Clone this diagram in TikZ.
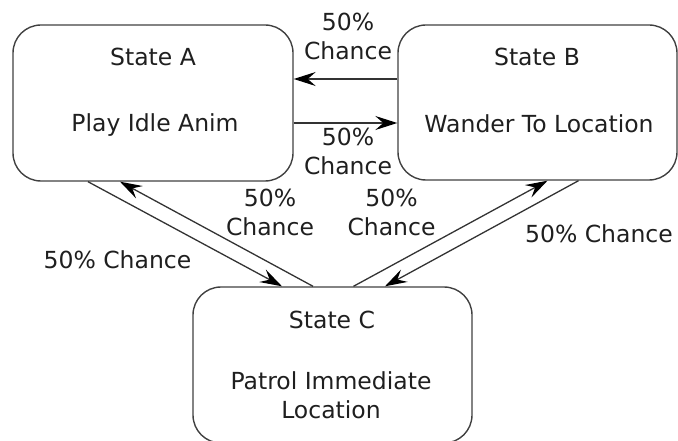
\documentclass[tikz,border=0pt]{standalone}
\usepackage{fontspec}
\setmainfont{DejaVu Sans}
\usetikzlibrary{arrows.meta}
\begin{document}
\begin{tikzpicture}[x=1pt,y=-1pt,
  statebox/.style={draw=black!75, line width=1.4pt, rounded corners=28pt,
    minimum width=280pt, minimum height=156pt, inner sep=0pt},
  lbl/.style={font=\fontsize{23.5}{29}\selectfont, text=black!88,
    anchor=base, inner sep=0pt, align=center},
  flow/.style={draw=black!80, line width=1.3pt,
    -{Stealth[length=22pt,width=14pt,inset=8pt,color=black]}}]
  \path[use as bounding box] (0,0) rectangle (678,441);

  % state boxes
  \node[statebox] (A) at (153,103) {};
  \node[statebox, minimum width=279pt, minimum height=155pt] (B) at (537.5,102.5) {};
  \node[statebox, minimum width=279pt, minimum height=156pt] (C) at (332.5,365) {};

  % state texts (base anchor = baseline of the last line)
  \node[lbl] (Atitle) at (153,66) {State A};
  \node[lbl] (Atask)  at (155,132) {Play Idle Anim};
  \node[lbl] (Btitle) at (537,66) {State B};
  \node[lbl] (Btask)  at (539,133) {Wander To Location};
  \node[lbl] (Ctitle) at (332,328) {State C};
  \node[lbl] (Ctask)  at (331,418) {Patrol Immediate\\Location};

  % transitions between A and B
  \draw[flow] (B.west |- 0,79) -- (A.east |- 0,79);
  \draw[flow] (A.east |- 0,123) -- (B.west |- 0,123);
  % transitions between A and C
  \draw[flow] ([xshift=-65pt]A.south) -- ([xshift=-50.5pt]C.north);
  \draw[flow] ([xshift=-19.5pt]C.north) -- ([xshift=-33pt]A.south);
  % transitions between B and C
  \draw[flow] ([xshift=21pt]C.north) -- ([xshift=10pt]B.south);
  \draw[flow] ([xshift=41pt]B.south) -- ([xshift=52.5pt]C.north);

  % transition labels
  \node[lbl] (lBA) at (348,60) {50\%\\Chance};
  \node[lbl] (lAB) at (348,175) {50\%\\Chance};
  \node[lbl] (lAC) at (117.5,268) {50\% Chance};
  \node[lbl] (lCA) at (270,236) {50\%\\Chance};
  \node[lbl] (lCB) at (391.5,236) {50\%\\Chance};
  \node[lbl] (lBC) at (599,242) {50\% Chance};
\end{tikzpicture}
\end{document}
